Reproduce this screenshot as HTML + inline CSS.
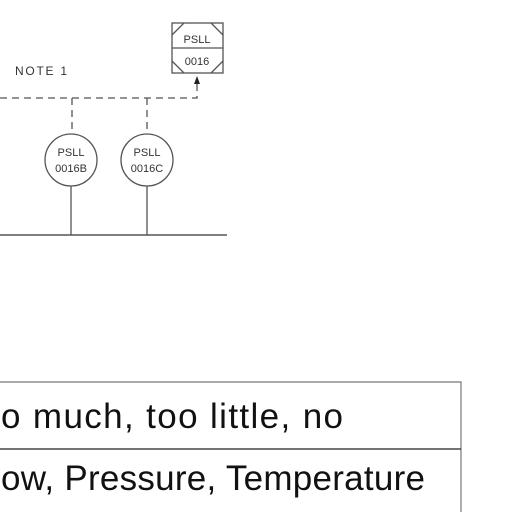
<!DOCTYPE html>
<html><head><style>html,body{margin:0;padding:0;background:#fff;width:512px;height:512px;overflow:hidden}</style></head>
<body>
<svg width="512" height="512" viewBox="0 0 512 512" xmlns="http://www.w3.org/2000/svg">
<g stroke="#555" stroke-width="1.3" fill="none">
  <g>
    <rect x="172" y="23" width="51" height="50"/>
    <line x1="172" y1="48" x2="223" y2="48"/>
    <path d="M172 35 L184 23 M211 23 L223 35 M172 61 L184 73 M211 73 L223 61"/>
  </g>
  <path d="M0 98 H197 V84" stroke-dasharray="7,5"/>
  <path d="M72 98 V134 M147 98 V134" stroke-dasharray="7,5"/>
  <circle cx="71" cy="160" r="26"/>
  <circle cx="147" cy="160" r="26"/>
  <path d="M71 186 V235 M147 186 V235"/>
  <line x1="0" y1="235" x2="227" y2="235" stroke-width="1.6"/>
</g>
<polygon points="197,76 194,84 200,84" fill="#222"/>
<g font-family="Liberation Sans, sans-serif" font-size="11" fill="#333">
  <text x="197" y="43" text-anchor="middle">PSLL</text>
  <text x="197" y="65" text-anchor="middle">0016</text>
  <text x="15" y="75" font-size="12" textLength="52">NOTE  1</text>
  <text x="71" y="156" text-anchor="middle">PSLL</text>
  <text x="71" y="172" text-anchor="middle">0016B</text>
  <text x="147" y="156" text-anchor="middle">PSLL</text>
  <text x="147" y="172" text-anchor="middle">0016C</text>
</g>
<g>
  <path d="M0 382 H461 V512" stroke="#777" stroke-width="1.2" fill="none"/>
  <line x1="0" y1="449" x2="461" y2="449" stroke="#222" stroke-width="1.2"/>
  <g font-family="Liberation Sans, sans-serif" font-size="35" fill="#111">
    <text x="1" y="428" textLength="342" lengthAdjust="spacing">o much, too little, no</text>
    <text x="1" y="490" textLength="424" lengthAdjust="spacing">ow, Pressure, Temperature</text>
  </g>
</g>
</svg>
</body></html>
